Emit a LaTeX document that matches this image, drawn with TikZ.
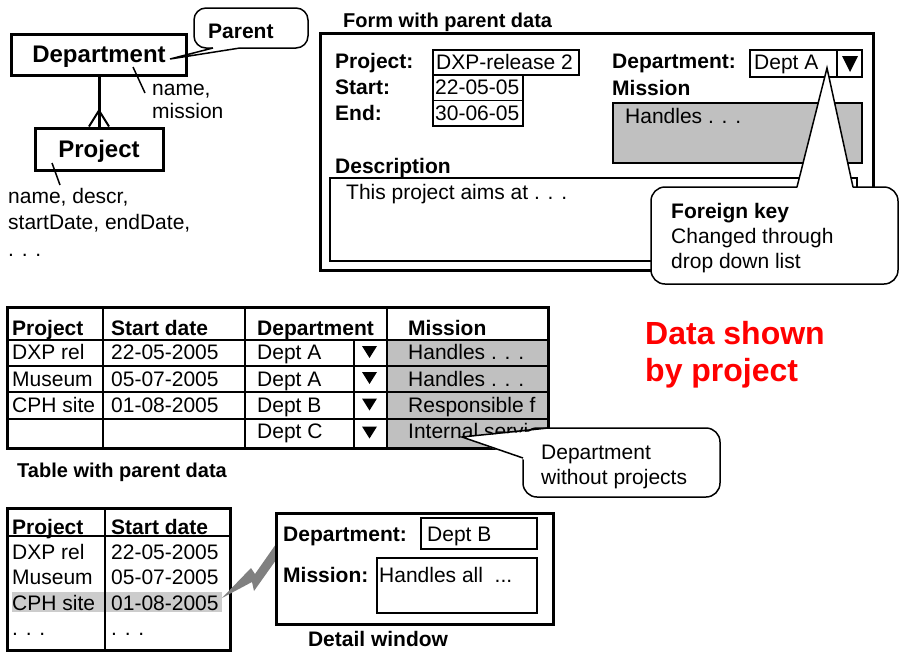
\documentclass[tikz,border=0pt]{standalone}
\usepackage{fontspec}
\setmainfont{Liberation Sans}
\definecolor{silvergray}{RGB}{192,192,192}
\definecolor{markgray}{RGB}{204,204,204}
\definecolor{boltgray}{RGB}{128,128,128}
\newcommand{\txtsize}{\fontsize{21}{25}\selectfont}
\tikzset{
  txt/.style={inner sep=0pt,anchor=base west,font=\txtsize},
  btxt/.style={inner sep=0pt,anchor=base west,font=\txtsize\bfseries},
  ttl/.style={inner sep=0pt,anchor=base west,font=\fontsize{20}{24}\selectfont\bfseries},
  entity/.style={draw,line width=3pt,text depth=0pt,font=\fontsize{24}{28}\selectfont\bfseries},
  frame/.style={draw,line width=3pt},
  field/.style={draw,line width=1.5pt},
  balloon/.style={draw,line width=1.5pt,fill=white,rounded corners=14pt},
}
\begin{document}
\begin{tikzpicture}[x=1pt,y=-1pt]
\useasboundingbox (0,0) rectangle (907,651);
% data model
\node[entity,minimum width=175pt,minimum height=41pt] (dept) at (99,54.5) {Department};
\node[entity,minimum width=128pt,minimum height=42pt] (proj) at (99,149) {Project};
\draw[line width=3pt] (dept.south) -- (proj.north);
\draw[line width=2pt] ([xshift=-10pt]proj.north) -- ([yshift=16pt]proj.north) -- ([xshift=10pt]proj.north);
% (base of a multi-line node = last line)
\node[txt,align=left,font=\fontsize{21}{23}\selectfont] (deptattr) at (152,118) {name,\\mission};
\node[txt,align=left,font=\fontsize{21}{26.5}\selectfont] (projattr) at (8,256) {name, descr,\\startDate, endDate,\\. . .};
\coordinate (deptin) at (133,67);
\coordinate (deptout) at (145,93);
\coordinate (projin) at (52,163);
\coordinate (projout) at (60,185);
\draw[line width=1.5pt] (deptin) -- (deptout);
\draw[line width=1.5pt] (projin) -- (projout);
% parent balloon
\draw[balloon,rounded corners=12pt] (194,8) rectangle (308,48);
\fill[white] (213,46.5) rectangle (240,49.5);
\coordinate (parentpt) at (170,59);
\draw[line width=1.5pt] (213,48) -- (parentpt) -- (240,48);
\node[btxt] (parent) at (208,38) {Parent};

% form with parent data
\node[ttl] (formtitle) at (343,27) {Form with parent data};
\draw[frame] (320,33) rectangle (873,270);
\node[btxt] (lproj) at (335,68) {Project:};
\node[btxt] (lstart) at (335,94) {Start:};
\node[btxt] (lend) at (335,120) {End:};
\draw[field] (433,50) rectangle (579,75);
\draw[field] (433,75) rectangle (523,100.5);
\draw[field] (433,100.5) rectangle (523,126);
\node[txt] (vproj) at (436,69) {DXP-release 2};
\node[txt] (vstart) at (435,94.5) {22-05-05};
\node[txt] (vend) at (435,120) {30-06-05};
\node[btxt] (ldept) at (612,68) {Department:};
\draw[field] (750,50) rectangle (862,77);
\draw[field] (837,50) -- (837,77);
\fill (842,56) -- (858,56) -- (850,72) -- cycle;
\node[txt] (vdept) at (754,69) {Dept A};
\node[btxt] (lmis) at (612,95) {Mission};
\draw[field,fill=silvergray] (613,103) rectangle (862,163);
\node[txt] (vmis) at (625,123) {Handles . . .};
\node[btxt] (ldescr) at (335,173) {Description};
\draw[field] (330,178) rectangle (857,261);
\node[txt] (vdescr) at (346,199) {This project aims at . . .};
% foreign key balloon
\draw[balloon] (651,187) rectangle (898,284);
\coordinate (fkpt) at (827,68);
\fill[white] (797,189) -- (fkpt) -- (853,189) -- cycle;
\draw[line width=1.5pt] (797,187) -- (fkpt) -- (853,187);
\node[txt,align=left] (fk) at (671,268) {\textbf{Foreign key}\\Changed through\\drop down list};

% table with parent data
\fill[silvergray] (387,340) rectangle (548,448);
\foreach \y in {340,366,392,419}
  \draw[field] (7,\y) -- (548,\y);
\foreach \x in {103,245,387}
  \draw[field] (\x,307) -- (\x,448);
\draw[field] (354,340) -- (354,448);
\draw[frame] (7,307) rectangle (548,448);
\node[btxt] (hproj) at (12,335) {Project};
\node[btxt] (hstart) at (111,335) {Start date};
\node[btxt] (hdept) at (257,335) {Department};
\node[btxt] (hmis) at (408,335) {Mission};
\foreach \pr/\sd/\dep/\ms/\yb [count=\i] in {DXP rel/22-05-2005/Dept A/Handles . . ./359,
    Museum/05-07-2005/Dept A/Handles . . ./386, CPH site/01-08-2005/Dept B/Responsible f/412}{
  \node[txt] (tp\i) at (12,\yb) {\pr};
  \node[txt] (ts\i) at (111,\yb) {\sd};
  \node[txt] (td\i) at (257,\yb) {\dep};
  \node[txt] (tm\i) at (408,\yb) {\ms};
}
\node[txt] (td4) at (257,438) {Dept C};
\node[txt] (tm4) at (408,438) {Internal servi};
\foreach \yc in {352,378,404.5,432.5}
  \fill (362,\yc-6) -- (377,\yc-6) -- (369.5,\yc+6) -- cycle;
\node[ttl] (tabtitle) at (17,477) {Table with parent data};
% department balloon
\draw[balloon] (523,428) rectangle (720,497);
\coordinate (nopt) at (462,437);
\fill[white] (nopt) -- (549,430) -- (525,460) -- cycle;
\draw[line width=1.5pt] (548,428) -- (nopt) -- (523,458);
\node[txt,align=left] (nodept) at (541,484) {Department\\without projects};

\node[inner sep=0pt,anchor=base west,align=left,text=red,font=\fontsize{32}{37}\selectfont\bfseries] (headline) at (645,381) {Data shown\\by project};

% list and detail window
\fill[markgray] (12,592) rectangle (222,612);
\draw[field] (7,536) -- (230,536);
\draw[field] (105,508) -- (105,650);
\draw[frame] (7,508) rectangle (230,650);
\node[btxt] (lhproj) at (12,534) {Project};
\node[btxt] (lhstart) at (111,534) {Start date};
\foreach \pr/\sd/\yb [count=\i] in {DXP rel/22-05-2005/559, Museum/05-07-2005/584,
    CPH site/01-08-2005/610, . . ./. . ./635}{
  \node[txt] (lp\i) at (12,\yb) {\pr};
  \node[txt] (ls\i) at (111,\yb) {\sd};
}
\fill[boltgray] (222,598) -- (251,568) -- (255,574) -- (276,544) -- (276,560) -- (254,591) -- (252,582) -- cycle;
\draw[frame] (276,513) rectangle (553,624);
\node[btxt] (dwdept) at (283,541) {Department:};
\draw[field] (421,518) rectangle (537,549);
\node[txt] (dwdeptv) at (427,541) {Dept B};
\node[btxt] (dwmis) at (283,582) {Mission:};
\draw[field] (377,558) rectangle (537,613);
\node[txt] (dwmisv) at (379,582) {Handles all\ \ ...};
\node[btxt,anchor=base] (dwtitle) at (378,646) {Detail window};
\end{tikzpicture}
\end{document}
